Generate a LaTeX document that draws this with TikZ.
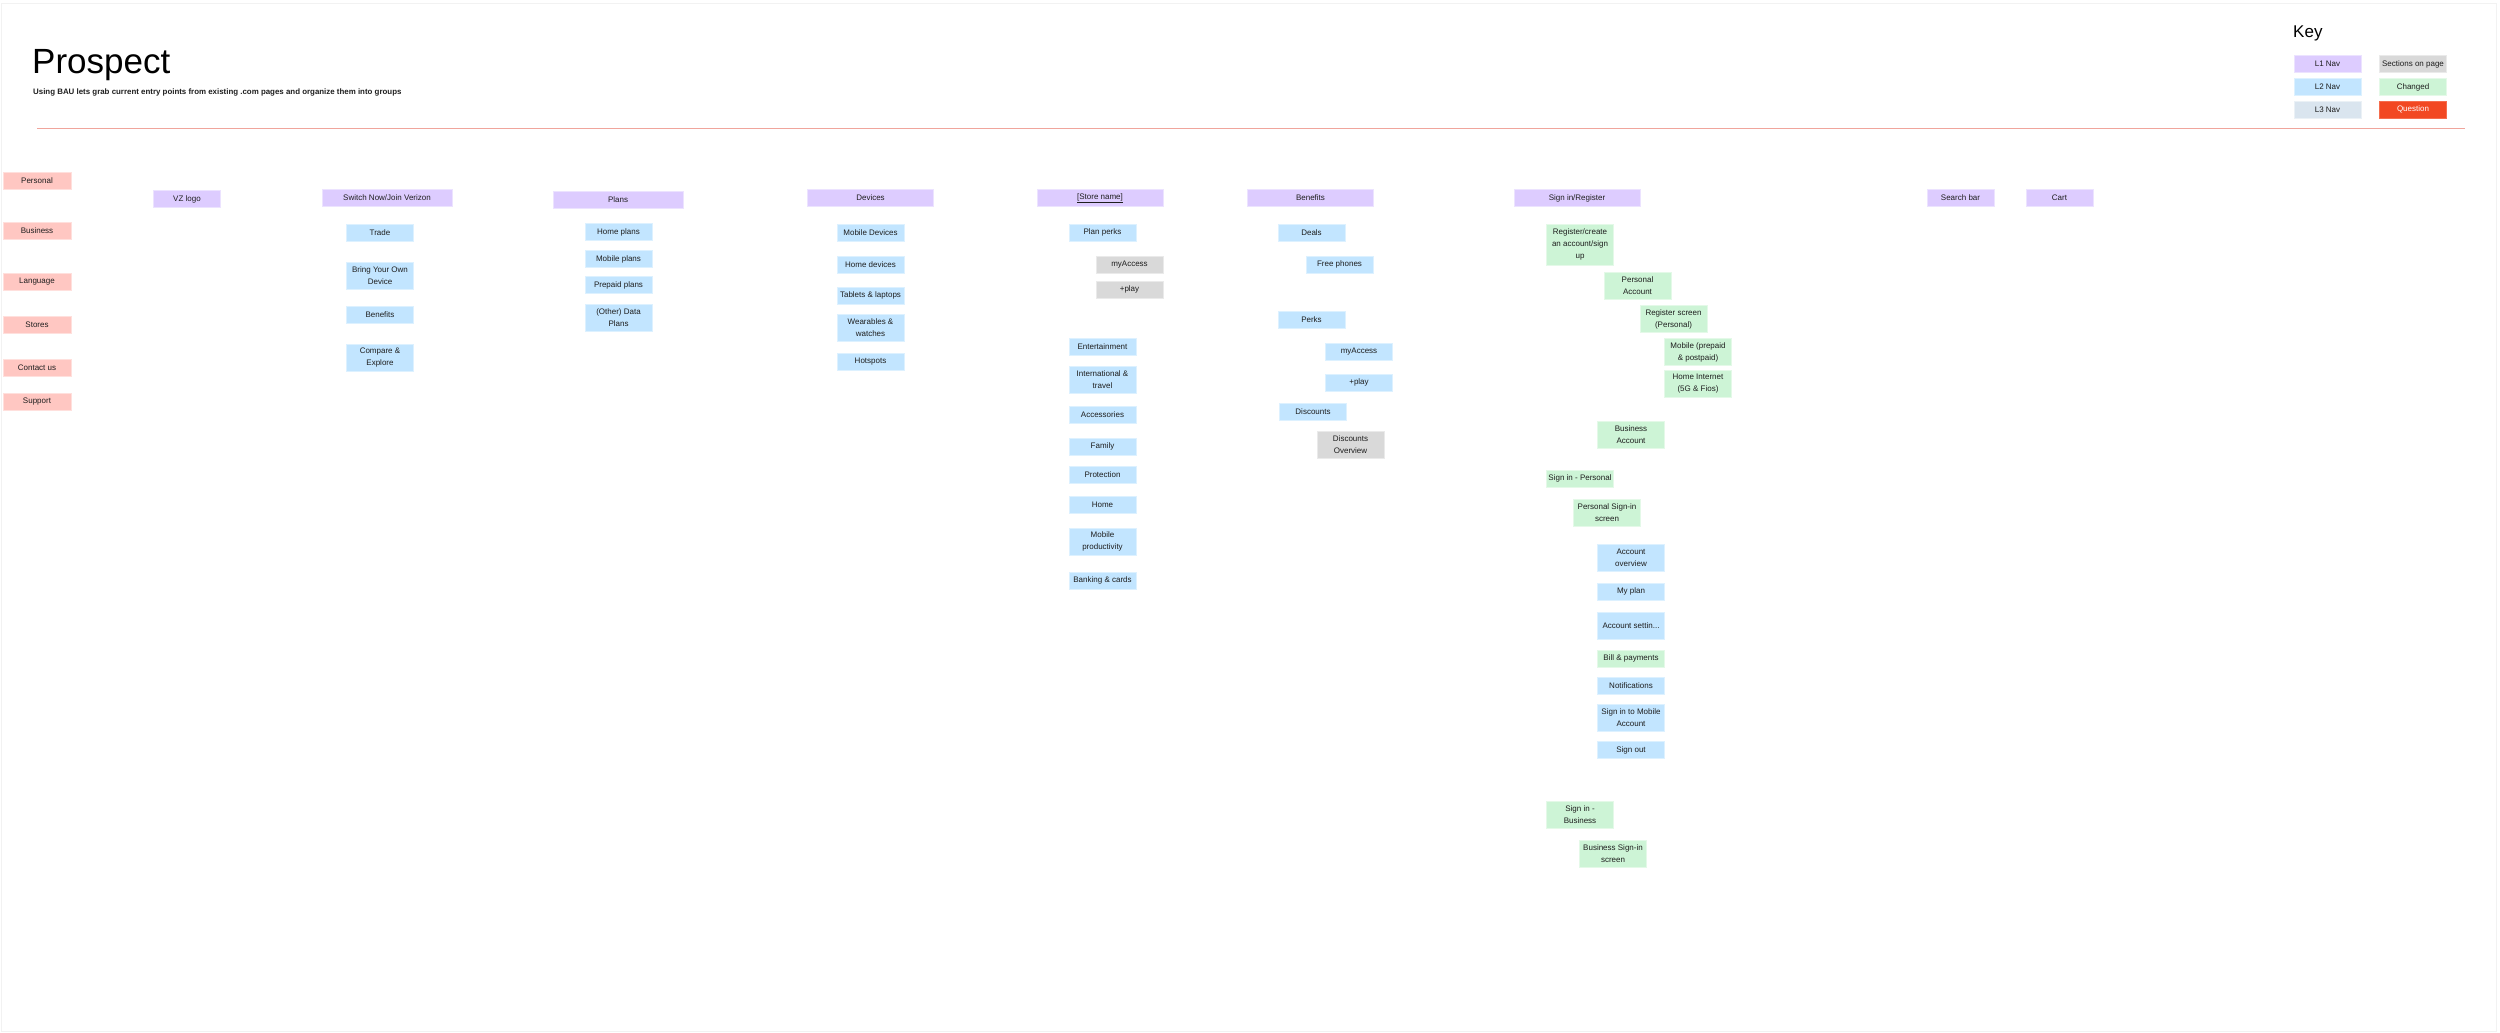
\documentclass[tikz,border=0pt]{standalone}
\usepackage{fontspec}
\setmainfont{Liberation Sans}
\usepackage{xcolor}
\usepackage{tikz}
\definecolor{navone}{HTML}{DDCCFF}
\definecolor{navtwo}{HTML}{C2E5FF}
\definecolor{navthree}{HTML}{DAE5EF}
\definecolor{sect}{HTML}{D9D9D9}
\definecolor{chg}{HTML}{CDF4D6}
\definecolor{qn}{HTML}{F24822}
\definecolor{util}{HTML}{FFC7C2}
\definecolor{rulered}{HTML}{F0A59C}
\definecolor{ink}{HTML}{1E1E1E}
\tikzset{
  tile/.style={rectangle, inner sep=1pt, minimum width=67pt, minimum height=17pt, align=center, text=ink, line width=0.7pt, font=\fontsize{8}{12}\selectfont},
  lone/.style={tile, fill=navone, draw=navone!55!white},
  ltwo/.style={tile, fill=navtwo, draw=navtwo!55!white},
  lthree/.style={tile, fill=navthree, draw=navthree!55!white},
  sect/.style={tile, fill=sect, draw=sect!55!white},
  chg/.style={tile, fill=chg, draw=chg!55!white},
  qn/.style={tile, fill=qn, draw=qn!80!white, text=white},
  util/.style={tile, fill=util, draw=util!55!white},
  longbar/.style={minimum width=126pt},
  twoline/.style={minimum height=27pt},
  threeline/.style={minimum height=41pt},
  heading/.style={anchor=base west, inner sep=0pt, text=black},
}
\newcommand{\nav}[5]{\node[#1] (#2) at (#3,#4) {#5};}

\begin{document}
\begin{tikzpicture}[x=1pt,y=-1pt]
  \useasboundingbox (0,0) rectangle (2500,1033);
  \draw[gray!10] (1,3) rectangle (2496,1031);
  % header
  \node[heading, font=\fontsize{35}{40}\selectfont] (title) at (32,74) {Prospect};
  \node[heading, text=ink, font=\bfseries\fontsize{7.9}{9}\selectfont] (subtitle) at (33,95) {Using BAU lets grab current entry points from existing .com pages and organize them into groups};
  \draw[rulered, line width=1pt] (37,128.5) -- (2465,128.5);
  % key
  \node[heading, font=\fontsize{17}{20}\selectfont] (keytitle) at (2293,38) {Key};
  \nav{lone}{keyone}{2327.5}{64}{L1 Nav}
  \nav{ltwo}{keytwo}{2327.5}{87}{L2 Nav}
  \nav{lthree}{keythree}{2327.5}{109.5}{L3 Nav}
  \nav{sect}{keysect}{2413}{64}{Sections on page}
  \nav{chg}{keychg}{2413}{87}{Changed}
  \nav{qn}{keyqn}{2413}{109.5}{Question}
  % utility links
  \foreach \y/\id/\txt in {180.5/personal/Personal, 231/business/Business, 281.5/language/Language,
      324.5/stores/Stores, 367.5/contact/Contact us, 402/support/Support}
    \node[util, minimum width=68pt] (\id) at (37,\y) {\txt};
  % L1 bar
  \nav{lone}{vzlogo}{187}{199}{VZ logo}
  \nav{lone, minimum width=130pt}{switch}{387}{198}{Switch Now/Join Verizon}
  \nav{lone, minimum width=130pt}{plans}{618}{200}{Plans}
  \nav{lone, longbar}{devices}{870.5}{198}{Devices}
  \nav{lone, longbar}{store}{1100}{198}{\underline{[Store name]}}
  \nav{lone, longbar}{benefits}{1310.5}{198}{Benefits}
  \nav{lone, longbar}{signin}{1577}{198}{Sign in/Register}
  \nav{lone}{search}{1960.5}{198}{Search bar}
  \nav{lone}{cart}{2059.5}{198}{Cart}
  % switch now
  \nav{ltwo}{trade}{380}{232.5}{Trade}
  \nav{ltwo, twoline}{byod}{380}{275.5}{Bring Your Own\\Device}
  \nav{ltwo}{swbenefits}{380}{315}{Benefits}
  \nav{ltwo, twoline}{compare}{380}{357.5}{Compare \&\\Explore}
  % plans
  \nav{ltwo}{homeplans}{618.5}{232}{Home plans}
  \nav{ltwo}{mobileplans}{618.5}{259}{Mobile plans}
  \nav{ltwo}{prepaid}{618.5}{285}{Prepaid plans}
  \nav{ltwo, twoline}{dataplans}{618.5}{317.5}{(Other) Data\\Plans}
  % devices
  \nav{ltwo}{mobiledev}{870.5}{232.5}{Mobile Devices}
  \nav{ltwo}{homedev}{870.5}{264.5}{Home devices}
  \nav{ltwo}{tablets}{870.5}{295.5}{Tablets \& laptops}
  \nav{ltwo, twoline}{wearables}{870.5}{328}{Wearables \&\\watches}
  \nav{ltwo}{hotspots}{870.5}{362}{Hotspots}
  % store
  \nav{ltwo}{planperks}{1102.5}{232.5}{Plan perks}
  \nav{sect}{stmyaccess}{1129.5}{264.5}{myAccess}
  \nav{sect}{stplay}{1129.5}{289.5}{+play}
  \nav{ltwo}{entertain}{1102.5}{347}{Entertainment}
  \nav{ltwo, twoline}{intl}{1102.5}{380}{International \&\\travel}
  \nav{ltwo}{accessories}{1102.5}{414.5}{Accessories}
  \nav{ltwo}{family}{1102.5}{446.5}{Family}
  \nav{ltwo}{protection}{1102.5}{474.5}{Protection}
  \nav{ltwo}{home}{1102.5}{504.5}{Home}
  \nav{ltwo, twoline}{productivity}{1102.5}{541.5}{Mobile\\productivity}
  \nav{ltwo}{banking}{1102.5}{580.5}{Banking \& cards}
  % benefits
  \nav{ltwo}{deals}{1311.5}{232.5}{Deals}
  \nav{ltwo}{freephones}{1339.5}{264.5}{Free phones}
  \nav{ltwo}{perks}{1311.5}{319.5}{Perks}
  \nav{ltwo}{bnmyaccess}{1359}{351.5}{myAccess}
  \nav{ltwo}{bnplay}{1359}{382.5}{+play}
  \nav{ltwo}{discounts}{1313}{411.5}{Discounts}
  \nav{sect, twoline}{discover}{1350.5}{445}{Discounts\\Overview}
  % sign in / register
  \nav{chg, threeline}{register}{1580}{244.5}{Register/create\\an account/sign\\up}
  \nav{chg, twoline}{persacct}{1637.5}{285.5}{Personal\\Account}
  \nav{chg, twoline}{regscreen}{1673.5}{319}{Register screen\\(Personal)}
  \nav{chg, twoline}{mobile}{1698}{352}{Mobile (prepaid\\\& postpaid)}
  \nav{chg, twoline}{internet}{1698}{384}{Home Internet\\(5G \& Fios)}
  \nav{chg, twoline}{busacct}{1631}{435}{Business\\Account}
  \nav{chg}{signpers}{1580}{478.5}{Sign in - Personal}
  \nav{chg, twoline}{persscreen}{1607}{513}{Personal Sign-in\\screen}
  \nav{ltwo, twoline}{overview}{1631}{557.5}{Account\\overview}
  \nav{ltwo}{myplan}{1631}{591.5}{My plan}
  \nav{ltwo, twoline}{settings}{1631}{626}{Account settin...}
  \nav{chg}{bill}{1631}{658.5}{Bill \& payments}
  \nav{ltwo}{notify}{1631}{685.5}{Notifications}
  \nav{ltwo, twoline}{signmobile}{1631}{717.5}{Sign in to Mobile\\Account}
  \nav{ltwo}{signout}{1631}{750}{Sign out}
  \nav{chg, twoline}{signbus}{1580}{814.5}{Sign in -\\Business}
  \nav{chg, twoline}{busscreen}{1613}{853.5}{Business Sign-in\\screen}
\end{tikzpicture}
\end{document}
